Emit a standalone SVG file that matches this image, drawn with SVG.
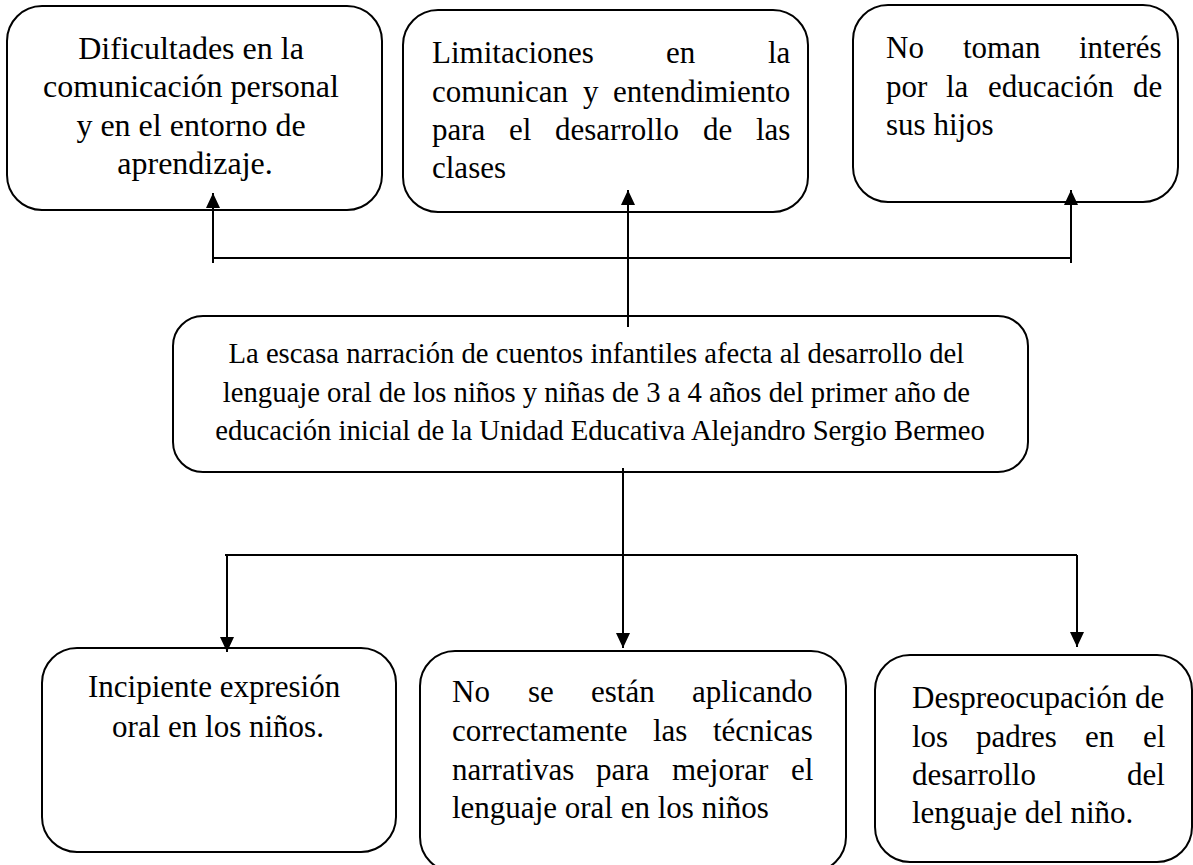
<svg xmlns="http://www.w3.org/2000/svg" width="1193" height="865" viewBox="0 0 1193 865">
<style>
  .box { fill: #ffffff; stroke: #000000; stroke-width: 2; }
  .t { font-family: "Liberation Serif", "Times New Roman", serif; font-size: 31px; fill: #000000; }
  .t32 { font-size: 32px; }
  .tc { font-size: 30.5px; }
  .mid { text-anchor: middle; }
  .ln { fill: none; stroke: #000000; stroke-width: 2; }
  .arr { marker-end: url(#ah); }
</style>
<defs>
  <marker id="ah" viewBox="0 0 15 14" refX="15" refY="7" markerWidth="15" markerHeight="14" markerUnits="userSpaceOnUse" orient="auto">
    <path d="M0,0 L15,7 L0,14 z" fill="#000000"/>
  </marker>
</defs>
<rect width="1193" height="865" fill="#ffffff"/>

<g id="node-dificultades">
  <rect class="box" x="7" y="6" width="375" height="204" rx="35" ry="35"/>
  <text class="t t32 mid">
    <tspan x="195" y="59">Dificultades en la</tspan>
    <tspan x="195" y="97">comunicación personal</tspan>
    <tspan x="195" y="136">y en el entorno de</tspan>
    <tspan x="195" y="174">aprendizaje.</tspan>
  </text>
</g>

<g id="node-limitaciones">
  <rect class="box" x="403" y="10" width="405" height="202" rx="35" ry="35"/>
  <text class="t">
    <tspan x="432" y="63">Limitaciones</tspan><tspan x="666" y="63">en</tspan><tspan x="768" y="63">la</tspan>
    <tspan x="432" y="102">comunican</tspan><tspan x="583" y="102">y</tspan><tspan x="613" y="102">entendimiento</tspan>
    <tspan x="432" y="140">para</tspan><tspan x="509" y="140">el</tspan><tspan x="555" y="140">desarrollo</tspan><tspan x="703" y="140">de</tspan><tspan x="756" y="140">las</tspan>
    <tspan x="432" y="178">clases</tspan>
  </text>
</g>

<g id="node-interes">
  <rect class="box" x="853" y="5" width="325" height="197" rx="35" ry="35"/>
  <text class="t">
    <tspan x="886" y="58">No</tspan><tspan x="963" y="58">toman</tspan><tspan x="1079" y="58">interés</tspan>
    <tspan x="886" y="97">por</tspan><tspan x="946" y="97">la</tspan><tspan x="988" y="97">educación</tspan><tspan x="1133" y="97">de</tspan>
    <tspan x="886" y="135">sus hijos</tspan>
  </text>
</g>

<g id="node-problema">
  <rect class="box" x="173" y="316" width="855" height="156" rx="30" ry="30"/>
  <text class="t tc mid" transform="translate(600,0) scale(0.94,1) translate(-600,0)">
    <tspan x="600" y="363">La escasa narración de cuentos infantiles afecta al desarrollo del</tspan>
    <tspan x="600" y="402">lenguaje oral de los niños y niñas de 3 a 4 años del primer año de</tspan>
    <tspan x="600" y="440">educación inicial de la Unidad Educativa Alejandro Sergio Bermeo</tspan>
  </text>
</g>

<g id="node-incipiente">
  <rect class="box" x="42" y="648" width="354" height="204" rx="35" ry="35"/>
  <text class="t mid">
    <tspan x="218" y="697">Incipiente expresión</tspan>
    <tspan x="218" y="737">oral en los niños.</tspan>
  </text>
</g>

<g id="node-tecnicas">
  <rect class="box" x="420" y="651" width="426" height="221" rx="35" ry="35"/>
  <text class="t">
    <tspan x="452" y="702">No</tspan><tspan x="528" y="702">se</tspan><tspan x="591" y="702">están</tspan><tspan x="692" y="702">aplicando</tspan>
    <tspan x="452" y="741">correctamente</tspan><tspan x="653" y="741">las</tspan><tspan x="713" y="741">técnicas</tspan>
    <tspan x="452" y="780">narrativas</tspan><tspan x="596" y="780">para</tspan><tspan x="672" y="780">mejorar</tspan><tspan x="791" y="780">el</tspan>
    <tspan x="452" y="818">lenguaje oral en los niños</tspan>
  </text>
</g>

<g id="node-despreocupacion">
  <rect class="box" x="875" y="655" width="317" height="207" rx="35" ry="35"/>
  <text class="t">
    <tspan x="912" y="708">Despreocupación de</tspan>
    <tspan x="912" y="747">los</tspan><tspan x="976" y="747">padres</tspan><tspan x="1085" y="747">en</tspan><tspan x="1143" y="747">el</tspan>
    <tspan x="912" y="785">desarrollo</tspan><tspan x="1127" y="785">del</tspan>
    <tspan x="912" y="823">lenguaje del niño.</tspan>
  </text>
</g>

<g id="connectors">
  <path class="ln" d="M213,258 L1071,258"/>
  <path class="ln arr" d="M213,263 L213,193"/>
  <path class="ln arr" d="M628,327 L628,190"/>
  <path class="ln arr" d="M1071,263 L1071,190"/>
  <path class="ln" d="M225,555 L1077,555"/>
  <path class="ln arr" d="M623,468 L623,648"/>
  <path class="ln arr" d="M227,555 L227,652"/>
  <path class="ln arr" d="M1077,555 L1077,647"/>
</g>
</svg>
